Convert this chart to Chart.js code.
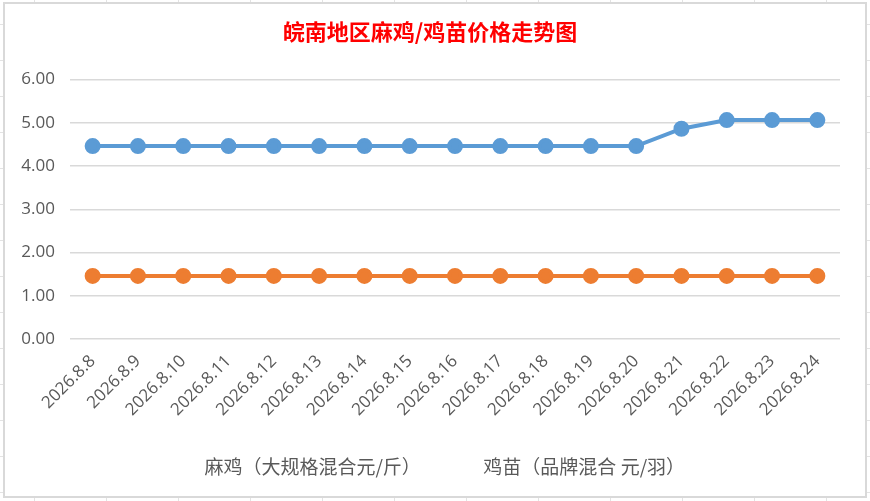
<!DOCTYPE html>
<html>
<head>
<meta charset="utf-8">
<script src="https://cdn.jsdelivr.net/npm/chart.js@4.4.1/dist/chart.umd.min.js"></script>
<style>
  html, body { margin: 0; padding: 0; }
  body {
    width: 870px; height: 501px; overflow: hidden; position: relative;
    background-color: #fff;
    /* hoja de cálculo detrás del gráfico */
    background-image:
      linear-gradient(to right, #e3e3e3 1px, transparent 1px),
      linear-gradient(to bottom, #e3e3e3 1px, transparent 1px);
    background-size: 72px 36px;
    background-position: 34px 24px;
  }
  #marco {
    position: absolute; left: 3px; top: 2px; width: 860px; height: 492px;
    border: 2px solid #d9d9d9; background: #fff;
  }
  #grafica { position: absolute; left: 0; top: 0; }
</style>
</head>
<body>
<div id="marco"></div>
<canvas id="grafica" width="870" height="501"></canvas>
<script>
// --- Datos ---
const fechas = ['2026.8.8', '2026.8.9', '2026.8.10', '2026.8.11', '2026.8.12', '2026.8.13',
  '2026.8.14', '2026.8.15', '2026.8.16', '2026.8.17', '2026.8.18', '2026.8.19',
  '2026.8.20', '2026.8.21', '2026.8.22', '2026.8.23', '2026.8.24'];
const precioMaji   = [4.46, 4.46, 4.46, 4.46, 4.46, 4.46, 4.46, 4.46, 4.46, 4.46, 4.46, 4.46,
  4.46, 4.86, 5.06, 5.06, 5.06];
const precioJimiao = [1.46, 1.46, 1.46, 1.46, 1.46, 1.46, 1.46, 1.46, 1.46, 1.46, 1.46, 1.46,
  1.46, 1.46, 1.46, 1.46, 1.46];
const nombreMaji   = '麻鸡（大规格混合元/斤）';
const nombreJimiao = '鸡苗（品牌混合 元/羽）';
const titulo       = '皖南地区麻鸡/鸡苗价格走势图';

const AZUL    = '#5B9BD5';
const NARANJA = '#ED7D31';
const GRIS    = '#595959';
const fuente  = '"Open Sans", "Noto Sans CJK SC", sans-serif';
const fuenteCJK = '"Noto Sans CJK SC", sans-serif';

Chart.defaults.font.family = fuente;
Chart.defaults.color = GRIS;

// leyenda sin muestra de color (solo texto)
function etiquetasLeyenda(chart) {
  return Chart.defaults.plugins.legend.labels.generateLabels(chart).map(l => ({
    ...l, fillStyle: 'rgba(0,0,0,0)', strokeStyle: 'rgba(0,0,0,0)', lineWidth: 0
  }));
}

const ctx = document.getElementById('grafica').getContext('2d');
new Chart(ctx, {
  type: 'line',
  data: {
    labels: fechas,
    datasets: [
      {
        label: nombreMaji,
        data: precioMaji,
        borderColor: AZUL,
        backgroundColor: AZUL,
        borderWidth: 4,
        pointRadius: 6,
        pointHoverRadius: 6,
        tension: 0
      },
      {
        label: nombreJimiao,
        data: precioJimiao,
        borderColor: NARANJA,
        backgroundColor: NARANJA,
        borderWidth: 4,
        pointRadius: 6,
        pointHoverRadius: 6,
        tension: 0
      }
    ]
  },
  options: {
    responsive: false,
    animation: false,
    layout: { padding: { left: 20, right: 30, top: 14, bottom: 15 } },
    plugins: {
      title: {
        display: true,
        text: titulo,
        color: '#FF0000',
        font: { family: fuenteCJK, size: 22, weight: 'bold' },
        padding: { top: 4, bottom: 35 }
      },
      legend: {
        position: 'bottom',
        labels: {
          boxWidth: 20,
          boxHeight: 0,
          padding: 33,
          color: GRIS,
          font: { family: fuenteCJK, size: 19 },
          generateLabels: etiquetasLeyenda
        }
      },
      tooltip: { enabled: false }
    },
    scales: {
      x: {
        offset: true,
        grid: { display: false },
        border: { display: false },
        // las fechas giradas pueden salir por la izquierda, como en Excel
        afterFit: s => { s.paddingLeft = 0; },
        ticks: {
          minRotation: 45,
          maxRotation: 45,
          autoSkip: false,
          color: GRIS,
          padding: 4,
          font: { size: 17 }
        }
      },
      y: {
        min: 0,
        max: 6,
        afterFit: s => { s.width = 50; },
        grid: { color: '#d9d9d9', lineWidth: 1.5, drawTicks: false },
        border: { display: false },
        ticks: {
          stepSize: 1,
          padding: 15,
          color: GRIS,
          font: { size: 17 },
          callback: v => v.toFixed(2)
        }
      }
    }
  }
});
</script>
</body>
</html>
